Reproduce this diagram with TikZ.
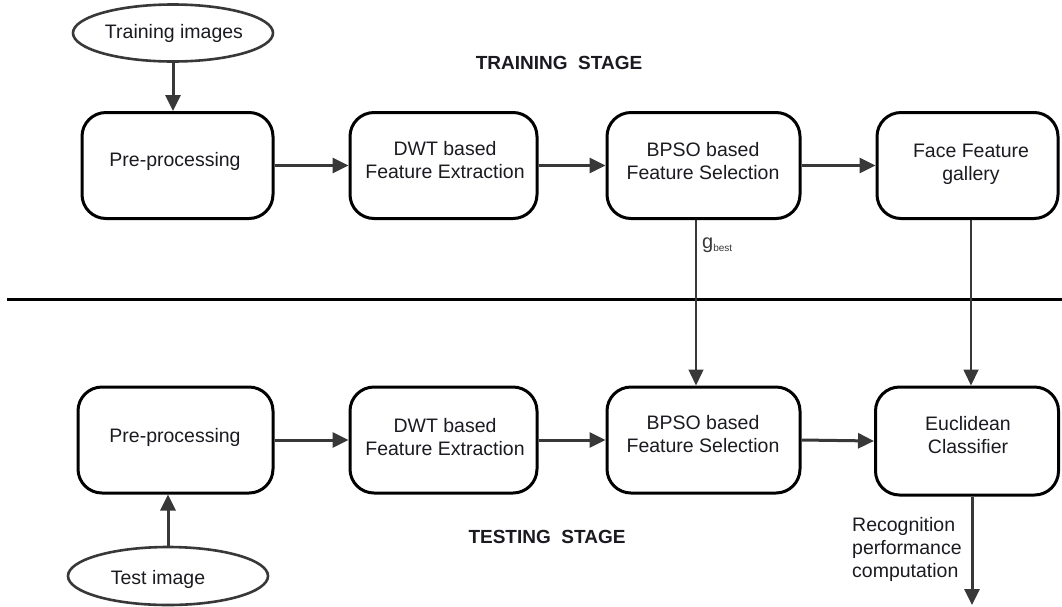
\documentclass[tikz,border=0pt]{standalone}
\usepackage{fontspec}
\setmainfont{Liberation Sans}
\usetikzlibrary{arrows.meta,shapes.geometric}
\definecolor{ink}{HTML}{1A1A20}
\definecolor{wire}{HTML}{383838}
\begin{document}
\begin{tikzpicture}[x=1pt,y=-1pt,
  stepbox/.style={draw=black,line width=3pt,rounded corners=24pt,minimum height=106pt,inner sep=0pt},
  txt/.style={text=ink,align=center,font=\fontsize{19.5}{23}\selectfont,inner sep=0pt},
  oval/.style={ellipse,draw=wire,line width=2.6pt,minimum width=200pt,minimum height=57pt,inner sep=0pt},
  flow/.style={draw=wire,line width=3pt,-{Triangle[length=16pt,width=15pt]}},
  thin/.style={draw=wire,line width=1.4pt,-{Triangle[length=16pt,width=15pt]}},
  stage/.style={font=\bfseries\fontsize{19}{22}\selectfont,text=ink,inner sep=0pt}]
\useasboundingbox (0,0) rectangle (1062,606);

% training row
\node[stepbox,minimum width=191pt] (a1) at (177.5,165.5) {};
\node[stepbox,minimum width=187pt] (a2) at (443.5,165.5) {};
\node[stepbox,minimum width=193pt] (a3) at (703.5,165.5) {};
\node[stepbox,minimum width=181pt] (a4) at (967.5,165.5) {};
\node[txt] (a1t) at (175,161) {Pre-processing};
\node[txt] (a2t) at (445,160) {DWT based\\Feature Extraction};
\node[txt] (a3t) at (703,161) {BPSO based\\Feature Selection};
\node[txt] (a4t) at (971,164) {Face Feature\\gallery};

% testing row
\node[stepbox,minimum width=195pt] (b1) at (175.5,440) {};
\node[stepbox,minimum width=187pt] (b2) at (443.5,440) {};
\node[stepbox,minimum width=193pt] (b3) at (703.5,440) {};
\node[stepbox,minimum width=183pt,minimum height=108pt] (b4) at (967,441) {};
\node[txt] (b1t) at (175,437) {Pre-processing};
\node[txt] (b2t) at (445,437.5) {DWT based\\Feature Extraction};
\node[txt] (b3t) at (703,434.5) {BPSO based\\Feature Selection};
\node[txt] (b4t) at (968,435.5) {Euclidean\\Classifier};

% inputs
\node[oval] (tr) at (173,33) {};
\node[txt] (trt) at (174,33) {Training images};
\node[oval,minimum height=58pt] (te) at (168,576) {};
\node[txt] (tet) at (158,579) {Test image};

% stage titles and separator
\node[stage] (s1) at (559,63) {TRAINING\ \ STAGE};
\node[stage] (s2) at (547,537) {TESTING\ \ STAGE};
\coordinate (hl) at (7,299);
\coordinate (hr) at (1062,299);
\draw[line width=3pt,black] (hl) -- (hr);

% connectors
\draw[flow] (tr.south) -- (tr.south |- a1.north);
\draw[flow] (a1.east) -- (a2.west);
\draw[flow] (a2.east) -- (a3.west);
\draw[flow] (a3.east) -- (a4.west);
\draw[flow] (te.north) -- (te.north |- b1.south);
\draw[flow] (b1.east) -- (b2.west);
\draw[flow] (b2.east) -- (b3.west);
\draw[flow] (b3.east) -- (b4.west);
\coordinate (gx) at (696,0);
\draw[thin] (gx |- a3.south) -- (gx |- b3.north);
\node[anchor=west,text=wire,inner sep=0pt,font=\fontsize{20}{20}\selectfont] (gb) at (702,245) {g\raisebox{-3pt}{\fontsize{10}{10}\selectfont best}};
\coordinate (rx) at (971,0);
\draw[flow,line width=1.8pt] (rx |- a4.south) -- (rx |- b4.north);
\coordinate (out) at (972,605);
\draw[flow] (out |- b4.south) -- (out);
\node[txt,align=left,anchor=north west] (rp) at (852,517) {Recognition\\performance\\computation};
\end{tikzpicture}
\end{document}
